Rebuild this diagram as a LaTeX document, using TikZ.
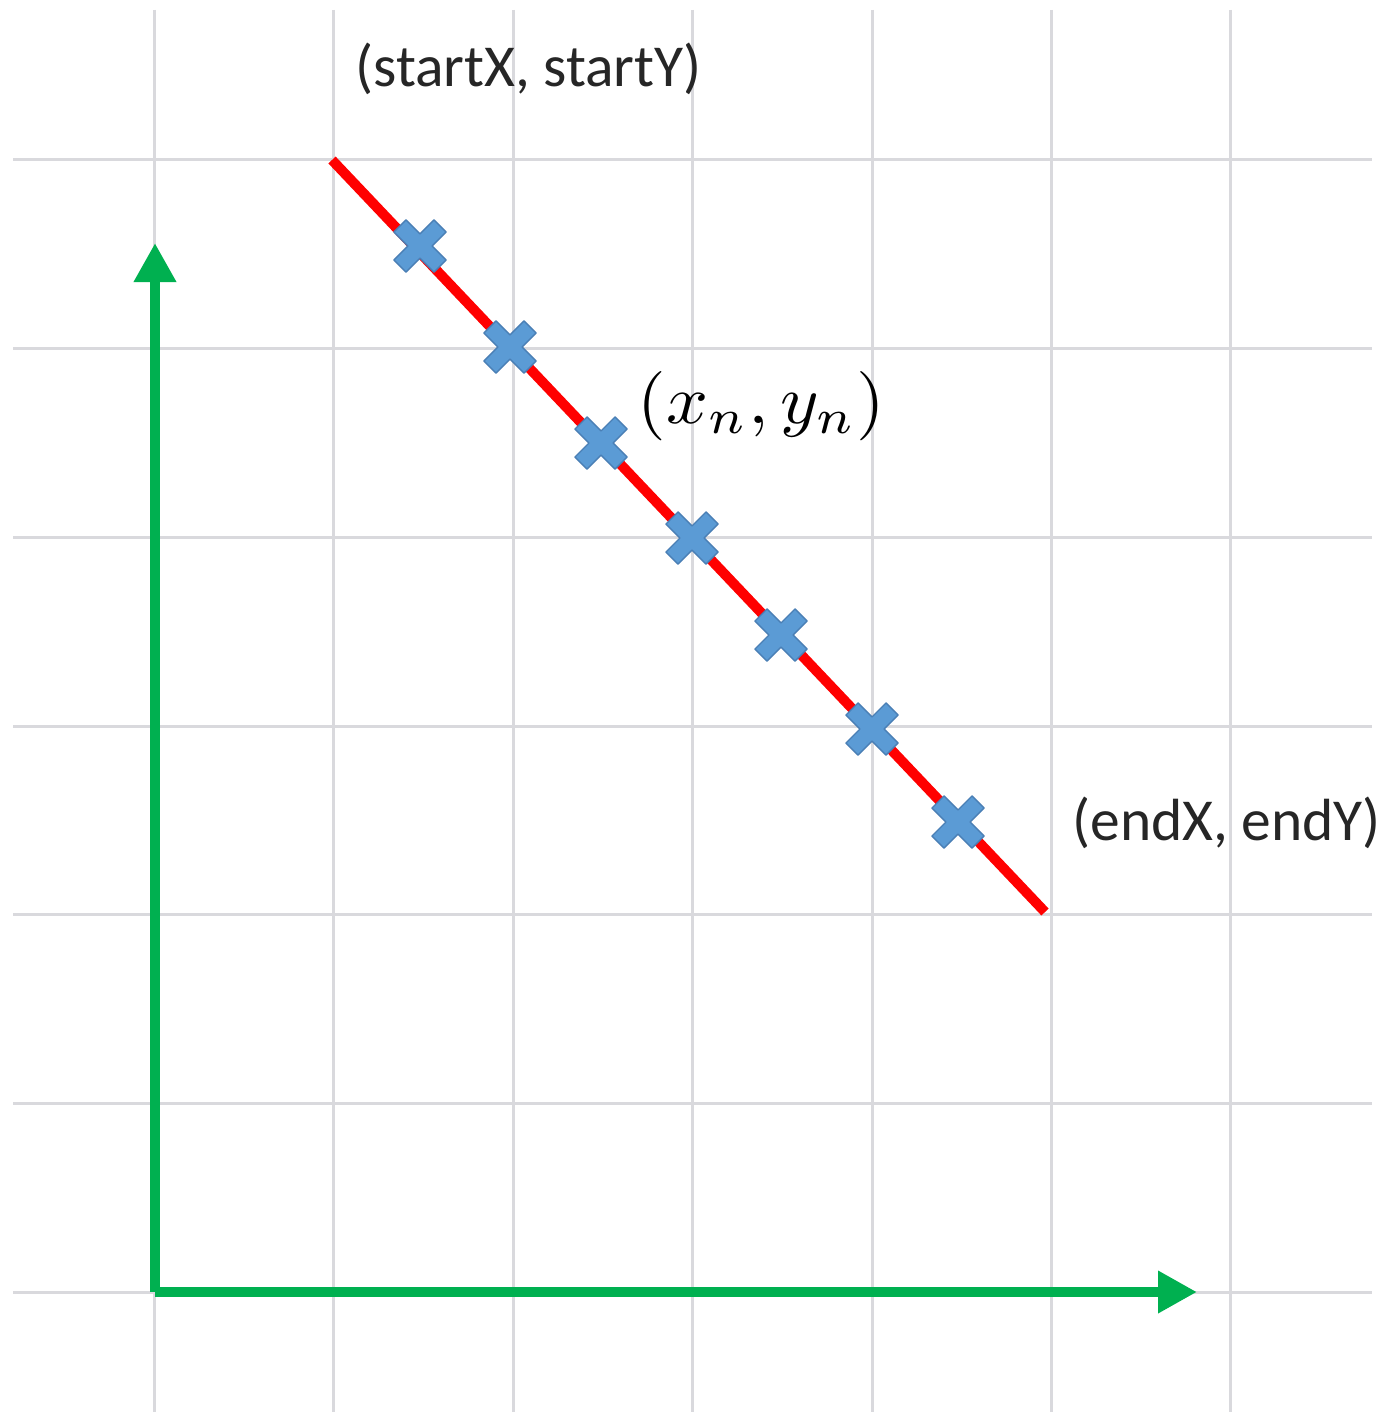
\documentclass[tikz,border=0pt]{standalone}
\usepackage{fontspec}
\setmainfont{Carlito}
\usetikzlibrary{arrows.meta}
\definecolor{gridgray}{HTML}{D9D9DD}
\definecolor{axisgreen}{HTML}{00B050}
\definecolor{markblue}{HTML}{5B9BD5}
\definecolor{markedge}{HTML}{4A7FB5}
\definecolor{linered}{HTML}{FF0000}
\definecolor{txt}{HTML}{262626}
\tikzset{
  gridline/.style={draw=gridgray, line width=1.5pt},
  axis/.style={draw=axisgreen, line width=5pt, line join=miter,
    -{Triangle[length=19.5pt,width=20pt]}, axisgreen},
  redline/.style={draw=linered, line width=5pt},
  lbl/.style={inner sep=0pt, anchor=base west, text=txt,
    font=\fontsize{29.75}{36}\selectfont},
  xmark/.pic={
    \filldraw[fill=markblue, draw=markedge, line width=0.7pt, line join=round]
      (8.5,28.3) -- (8.5,8.5) -- (28.3,8.5) -- (28.3,-8.5) -- (8.5,-8.5) --
      (8.5,-28.3) -- (-8.5,-28.3) -- (-8.5,-8.5) -- (-28.3,-8.5) -- (-28.3,8.5) --
      (-8.5,8.5) -- (-8.5,28.3) -- cycle;
  }
}
\begin{document}
\begin{tikzpicture}[x=0.5pt, y=-0.5pt]
\useasboundingbox (0,0) rectangle (1386,1412);
\fill[white] (0,0) rectangle (1386,1412);
% grid
\foreach \gx in {154,333,513,692,872,1051,1230}
  \draw[gridline] (\gx,10) -- (\gx,1412);
\foreach \gy in {160,348.7,537.3,726,914.7,1103.3,1292}
  \draw[gridline] (13,\gy) -- (1372,\gy);
% axes
\coordinate (origin) at (155,1292);
\coordinate (ytip) at (155,243);
\coordinate (xtip) at (1197,1292);
\draw[axis] (origin) -- (ytip);
\draw[axis] (origin) -- (xtip);
% red line
\coordinate (start) at (332,160);
\coordinate (end) at (1045,912);
\draw[redline] (start) -- (end);
% markers
\coordinate (m1) at (420,246);
\coordinate (m2) at (510,347);
\coordinate (m3) at (601,443);
\coordinate (m4) at (692,538);
\coordinate (m5) at (781,635);
\coordinate (m6) at (872,729);
\coordinate (m7) at (958,822);
\foreach \m in {m1,m2,m3,m4,m5,m6,m7}
  \pic[rotate=45] at (\m) {xmark};
% labels
\node[lbl] (startlbl) at (355,87) {(startX, startY)};
\node[lbl] (endlbl) at (1072,840) {(endX, endY)};
\node[inner sep=0pt, anchor=base west, text=black] (xnyn) at (637,423)
  {\resizebox{124pt}{26pt}{$(x_n,y_n)$}};
\end{tikzpicture}
\end{document}
